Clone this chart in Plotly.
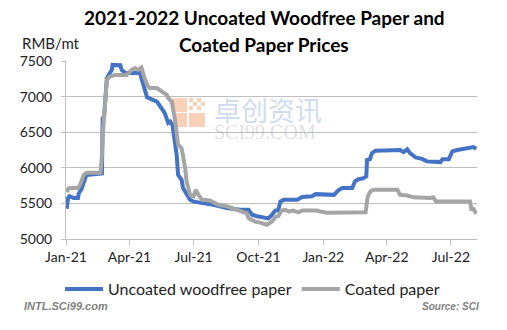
import plotly.graph_objects as go

# ---- data ----
uncoated_dates = [
    "2021-01-02", "2021-01-04", "2021-01-06", "2021-01-12", "2021-01-18", "2021-01-19",
    "2021-01-23", "2021-01-28", "2021-01-30", "2021-02-21", "2021-02-22", "2021-02-24",
    "2021-02-28", "2021-03-07", "2021-03-08", "2021-03-19", "2021-03-21", "2021-03-26",
    "2021-04-04", "2021-04-16", "2021-04-18", "2021-04-23", "2021-04-26", "2021-05-10",
    "2021-05-17", "2021-05-21", "2021-05-26", "2021-05-29", "2021-06-01", "2021-06-05",
    "2021-06-07", "2021-06-09", "2021-06-14", "2021-06-16", "2021-06-21", "2021-06-26",
    "2021-07-01", "2021-07-15", "2021-07-29", "2021-08-17", "2021-09-05", "2021-09-17",
    "2021-09-22", "2021-09-29", "2021-10-11", "2021-10-15", "2021-10-20", "2021-10-25",
    "2021-10-29", "2021-11-01", "2021-11-06", "2021-11-25", "2021-12-02", "2021-12-16",
    "2021-12-21", "2022-01-16", "2022-01-23", "2022-01-28", "2022-02-11", "2022-02-15",
    "2022-02-20", "2022-02-27", "2022-03-03", "2022-03-04", "2022-03-08", "2022-03-11",
    "2022-03-16", "2022-04-08", "2022-04-20", "2022-04-25", "2022-04-30", "2022-05-04",
    "2022-05-12", "2022-05-21", "2022-05-28", "2022-06-16", "2022-06-19", "2022-06-28",
    "2022-07-03", "2022-07-10", "2022-07-17", "2022-07-24", "2022-08-02", "2022-08-06",
]
uncoated_values = [
    5425, 5575, 5600, 5575, 5575, 5640,
    5700, 5880, 5900, 5920, 6700, 6720,
    7260, 7375, 7445, 7440, 7375, 7330,
    7330, 7330, 7260, 7070, 6990, 6930,
    6840, 6770, 6630, 6650, 6600, 6370,
    6180, 5900, 5830, 5715, 5620, 5550,
    5525, 5505, 5480, 5435, 5410, 5410,
    5340, 5320, 5300, 5290, 5340, 5400,
    5400, 5525, 5550, 5550, 5590, 5600,
    5630, 5620, 5690, 5715, 5715, 5810,
    5840, 5855, 5880, 6110, 6120, 6205,
    6240, 6245, 6250, 6220, 6260, 6205,
    6145, 6125, 6090, 6080, 6120, 6120,
    6230, 6250, 6260, 6275, 6290, 6265,
]

coated_dates = [
    "2021-01-02", "2021-01-05", "2021-01-12", "2021-01-18", "2021-01-21", "2021-01-26",
    "2021-01-30", "2021-02-19", "2021-02-21", "2021-02-23", "2021-02-28", "2021-03-04",
    "2021-03-11", "2021-03-28", "2021-04-04", "2021-04-09", "2021-04-13", "2021-04-18",
    "2021-04-21", "2021-04-26", "2021-04-30", "2021-05-10", "2021-05-17", "2021-05-24",
    "2021-05-26", "2021-05-31", "2021-06-05", "2021-06-09", "2021-06-14", "2021-06-19",
    "2021-06-21", "2021-06-26", "2021-07-01", "2021-07-04", "2021-07-08", "2021-07-13",
    "2021-07-24", "2021-08-05", "2021-08-17", "2021-08-31", "2021-09-14", "2021-09-17",
    "2021-09-26", "2021-10-03", "2021-10-13", "2021-10-20", "2021-10-25", "2021-10-29",
    "2021-11-03", "2021-11-08", "2021-11-13", "2021-11-19", "2021-11-27", "2021-12-02",
    "2021-12-23", "2021-12-28", "2022-01-06", "2022-03-02", "2022-03-03", "2022-03-05",
    "2022-03-09", "2022-03-13", "2022-04-16", "2022-04-20", "2022-04-30", "2022-05-09",
    "2022-06-02", "2022-06-06", "2022-06-10", "2022-07-24", "2022-07-28", "2022-07-30",
    "2022-08-02", "2022-08-06",
]
coated_values = [
    5660, 5715, 5720, 5715, 5760, 5900,
    5930, 5930, 6180, 6580, 7235, 7280,
    7305, 7305, 7375, 7400, 7375, 7410,
    7305, 7165, 7120, 7120, 7070, 7025,
    6980, 6930, 6650, 6325, 6275, 6000,
    5810, 5620, 5600, 5690, 5620, 5550,
    5540, 5480, 5460, 5410, 5365, 5295,
    5245, 5230, 5200, 5245, 5310, 5320,
    5400, 5410, 5385, 5400, 5375, 5400,
    5400, 5385, 5370, 5375, 5460, 5600,
    5670, 5690, 5690, 5620, 5610, 5585,
    5575, 5585, 5525, 5525, 5525, 5420,
    5420, 5355,
]

tick_dates = ["2021-01-01", "2021-04-01", "2021-07-01", "2021-10-01",
              "2022-01-01", "2022-04-01", "2022-07-01"]
tick_labels = ["Jan-21", "Apr-21", "Jul-21", "Oct-21", "Jan-22", "Apr-22", "Jul-22"]
y_ticks = [5000, 5500, 6000, 6500, 7000, 7500]

BLUE = "#4472C4"
GRAY = "#A5A5A5"
FONT = "Lato"

fig = go.Figure()
fig.add_trace(go.Scatter(x=uncoated_dates, y=uncoated_values, mode="lines",
                         name="Uncoated woodfree paper",
                         line=dict(color=BLUE, width=4)))
fig.add_trace(go.Scatter(x=coated_dates, y=coated_values, mode="lines",
                         name="Coated paper",
                         line=dict(color=GRAY, width=4)))

W, H = 507, 330
L, R, T, B = 66, 30, 61, 91


def px(xp):
    return (xp - L) / (W - L - R)


def py(yp):
    return (H - B - yp) / (H - T - B)


# watermark logo (light orange squares)
logo = "rgba(246,170,125,0.55)"
shapes = []
for (x0, y0, x1, y1) in [(173, 98, 187, 112), (173, 113, 187, 127), (189, 113, 205, 127)]:
    shapes.append(dict(type="rect", xref="paper", yref="paper",
                       x0=px(x0), x1=px(x1), y0=py(y1), y1=py(y0),
                       fillcolor=logo, line=dict(width=0), layer="below"))
for (x0, y0) in [(189, 98), (197, 98), (193, 102), (201, 102), (189, 106), (197, 106)]:
    shapes.append(dict(type="rect", xref="paper", yref="paper",
                       x0=px(x0), x1=px(x0 + 4), y0=py(y0 + 4), y1=py(y0),
                       fillcolor=logo, line=dict(width=0), layer="below"))

watermark = ("<span style='font-size:27px;font-family:Noto Sans CJK SC;"
             "fill:rgba(120,155,205,0.6)'>卓创资讯</span><br>"
             "<span style='font-size:20px;fill:rgba(165,165,165,0.6)'>SCI99.COM</span>")

title_font = dict(family=FONT, size=19, color="#000000", weight="bold")
annotations = [
    dict(text="2021-2022 Uncoated Woodfree Paper and",
         xref="paper", yref="paper", x=px(264), y=py(17), xanchor="center", yanchor="middle",
         showarrow=False, font=title_font),
    dict(text="Coated Paper Prices",
         xref="paper", yref="paper", x=px(264), y=py(44), xanchor="center", yanchor="middle",
         showarrow=False, font=title_font),
    dict(text="RMB/mt", xref="paper", yref="paper", x=px(20), y=py(43),
         xanchor="left", yanchor="middle", showarrow=False,
         font=dict(family=FONT, size=15, color="#222222")),
    dict(text=watermark, xref="paper", yref="paper", x=px(212), y=py(116),
         xanchor="left", yanchor="middle", align="left", showarrow=False,
         font=dict(family="Liberation Serif", size=14, color="rgba(165,165,165,0.6)")),
    dict(text="<b><i>INTL.SCi99.com</i></b>", xref="paper", yref="paper", x=px(22), y=py(306),
         xanchor="left", yanchor="middle", showarrow=False,
         font=dict(family="Liberation Sans", size=11, color="#7F7F7F")),
    dict(text="<b><i>Source: SCI</i></b>", xref="paper", yref="paper", x=px(481), y=py(306),
         xanchor="right", yanchor="middle", showarrow=False,
         font=dict(family="Liberation Sans", size=10, color="#7F7F7F")),
]

fig.update_layout(
    width=W, height=H,
    margin=dict(l=L, r=R, t=T, b=B, pad=0, autoexpand=False),
    paper_bgcolor="white", plot_bgcolor="white",
    font=dict(family=FONT, size=14, color="#222222"),
    showlegend=True,
    legend=dict(orientation="h", x=px(60), y=py(272), xanchor="left", yanchor="top",
                font=dict(family=FONT, size=16, color="#222222"),
                bgcolor="rgba(0,0,0,0)", itemwidth=38, tracegroupgap=0),
    xaxis=dict(type="date", range=["2021-01-01", "2022-08-07"],
               tickmode="array", tickvals=tick_dates, ticktext=tick_labels,
               showgrid=False, showline=True, linecolor="#BFBFBF", linewidth=1,
               ticks="outside", ticklen=5, tickcolor="#BFBFBF",
               tickfont=dict(family=FONT, size=14, color="#222222"), zeroline=False),
    yaxis=dict(range=[5000, 7500], tickvals=y_ticks,
               showgrid=True, gridcolor="#BFBFBF", gridwidth=1,
               showline=True, linecolor="#BFBFBF", linewidth=1,
               ticks="outside", ticklen=4, tickcolor="#BFBFBF", ticklabelstandoff=6,
               tickfont=dict(family=FONT, size=14, color="#222222"), zeroline=False),
    shapes=shapes,
    annotations=annotations,
)

fig.write_html("out.html")
